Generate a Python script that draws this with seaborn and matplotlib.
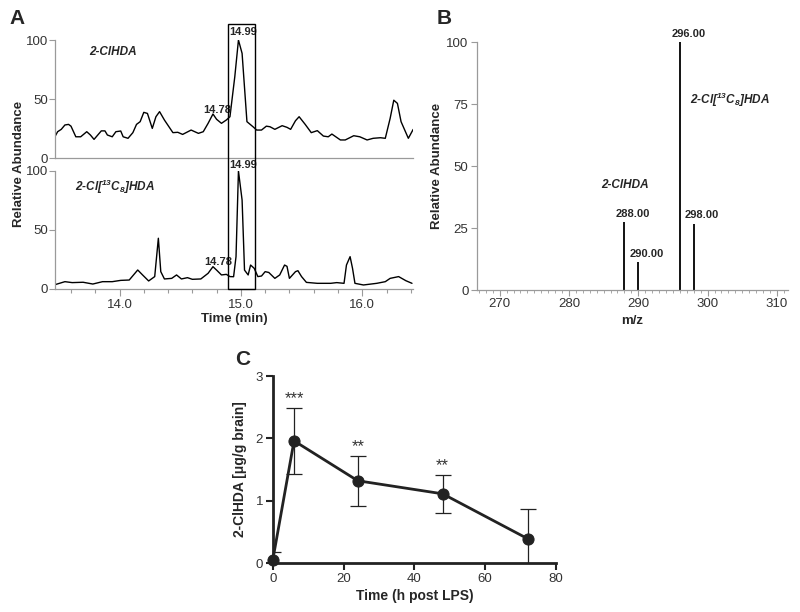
import numpy as np
import pandas as pd
import matplotlib
matplotlib.use("Agg")
import matplotlib.pyplot as plt
from matplotlib.patches import Rectangle
from matplotlib.ticker import MultipleLocator
import seaborn as sns

# chromatogram, 2-ClHDA trace (time in min, relative abundance)
top_time = [13.46, 13.49, 13.52, 13.55, 13.58, 13.60, 13.64, 13.68, 13.73, 13.76,
            13.79, 13.85, 13.88, 13.90, 13.94, 13.97, 14.01, 14.03, 14.07, 14.11,
            14.14, 14.17, 14.20, 14.23, 14.27, 14.30, 14.33, 14.37, 14.44, 14.48,
            14.52, 14.59, 14.65, 14.69, 14.73, 14.77, 14.80, 14.84, 14.88, 14.91,
            14.95, 14.98, 15.01, 15.05, 15.10, 15.13, 15.17, 15.21, 15.24, 15.28,
            15.34, 15.38, 15.41, 15.45, 15.48, 15.53, 15.58, 15.63, 15.68, 15.72,
            15.75, 15.82, 15.86, 15.93, 15.98, 16.04, 16.09, 16.15, 16.19, 16.23,
            16.26, 16.29, 16.32, 16.38, 16.42]
top_abund = [16.7, 22.3, 24.3, 28.0, 28.5, 27.0, 18.0, 18.0, 22.3, 19.5,
             15.8, 23.0, 23.0, 19.5, 18.0, 22.3, 22.9, 18.0, 16.7, 21.5,
             28.5, 30.8, 38.7, 37.8, 25.1, 35.0, 39.3, 32.2, 21.5, 21.8,
             20.0, 23.7, 20.9, 22.3, 29.4, 37.3, 32.8, 29.4, 32.2, 35.0,
             69.0, 100.0, 88.7, 30.8, 26.5, 23.7, 23.7, 27.0, 26.5, 24.3,
             27.4, 26.0, 24.3, 31.6, 35.0, 28.5, 21.5, 23.2, 18.6, 18.0,
             20.3, 15.3, 15.3, 18.9, 18.0, 15.3, 16.7, 17.2, 16.7, 33.6,
             49.0, 46.3, 30.8, 16.7, 24.3]

# chromatogram, 2-Cl[13C8]HDA trace
bot_time = [13.46, 13.55, 13.61, 13.70, 13.78, 13.86, 13.94, 14.01, 14.08, 14.15,
            14.19, 14.24, 14.29, 14.32, 14.34, 14.37, 14.43, 14.47, 14.51, 14.56,
            14.60, 14.67, 14.73, 14.77, 14.80, 14.84, 14.88, 14.91, 14.94, 14.96,
            14.98, 15.01, 15.03, 15.06, 15.08, 15.11, 15.14, 15.17, 15.20, 15.23,
            15.28, 15.32, 15.36, 15.38, 15.40, 15.45, 15.47, 15.50, 15.54, 15.63,
            15.74, 15.79, 15.85, 15.87, 15.90, 15.92, 15.94, 16.01, 16.12, 16.19,
            16.23, 16.30, 16.36, 16.41]
bot_abund = [3.4, 6.2, 5.4, 5.7, 4.2, 6.2, 6.2, 7.3, 7.6, 16.1,
             11.9, 6.8, 10.5, 43.0, 14.7, 8.5, 9.0, 11.9, 8.5, 9.6,
             8.2, 8.5, 13.3, 18.9, 16.0, 11.9, 12.4, 10.5, 10.4, 27.4,
             100.0, 75.4, 16.0, 11.9, 20.3, 17.5, 10.5, 11.0, 14.7, 14.0,
             9.0, 11.9, 20.3, 19.2, 9.0, 14.7, 15.5, 10.5, 5.6, 4.8,
             4.8, 5.4, 4.8, 20.3, 27.4, 17.5, 4.8, 3.4, 4.8, 6.2,
             9.0, 10.5, 7.0, 4.8]

# mass spectrum
mz = [288.0, 290.0, 296.0, 298.0]
mz_abund = [27.5, 11.4, 100.0, 26.8]
mz_labels = ["288.00", "290.00", "296.00", "298.00"]

# time course after LPS
hours = [0, 6, 24, 48, 72]
conc = [0.05, 1.96, 1.32, 1.11, 0.39]
conc_sem = [0.12, 0.53, 0.40, 0.31, 0.47]
stars = ["", "***", "**", "**", ""]

sns.set_style("ticks")
plt.rcParams["font.family"] = ["Liberation Sans", "DejaVu Sans"]
plt.rcParams["mathtext.fontset"] = "custom"
plt.rcParams["mathtext.it"] = "Liberation Sans:italic:bold"
plt.rcParams["mathtext.rm"] = "Liberation Sans:italic:bold"
plt.rcParams["mathtext.bf"] = "Liberation Sans:italic:bold"

grey = "#9a9a9a"
tickc = "#333333"
fig = plt.figure(figsize=(8, 6.12), dpi=100)

ax_top = fig.add_axes([0.069, 0.7418, 0.4475, 0.1928])
ax_bot = fig.add_axes([0.069, 0.5278, 0.4475, 0.1928])

chrom_top = pd.DataFrame({"time": top_time, "abund": top_abund})
chrom_bot = pd.DataFrame({"time": bot_time, "abund": bot_abund})
sns.lineplot(data=chrom_top, x="time", y="abund", ax=ax_top, color="black", lw=1.0)
sns.lineplot(data=chrom_bot, x="time", y="abund", ax=ax_bot, color="black", lw=1.0)

for ax in (ax_top, ax_bot):
    ax.set_xlim(13.47, 16.42)
    ax.set_ylim(0, 100)
    ax.set_yticks([0, 50, 100])
    ax.set_xlabel("")
    ax.set_ylabel("")
    sns.despine(ax=ax)
    for s in ("left", "bottom"):
        ax.spines[s].set_color(grey)
        ax.spines[s].set_linewidth(0.9)
    ax.tick_params(axis="y", colors=grey, labelcolor=tickc, labelsize=9.5, length=4, width=0.8, pad=1)
ax_top.set_xticks([])
ax_bot.set_xticks([14.0, 15.0, 16.0])
ax_bot.set_xticklabels(["14.0", "15.0", "16.0"])
ax_bot.xaxis.set_minor_locator(MultipleLocator(0.2))
ax_bot.tick_params(axis="x", which="major", colors=grey, labelcolor=tickc, labelsize=9.5, length=5, width=0.8, pad=2)
ax_bot.tick_params(axis="x", which="minor", colors=grey, length=3, width=0.8)
ax_bot.set_xlabel("Time (min)", fontsize=9.5, fontweight="bold", labelpad=2)

ax_top.text(13.95, 90, "2-ClHDA", fontsize=8.5, fontweight="bold", style="italic", ha="center", va="center")
ax_bot.text(13.965, 86.7, r"2-Cl[$^{13}$C$_8$]HDA", fontsize=8.5, fontweight="bold", style="italic",
            ha="center", va="center")
ax_top.text(15.02, 106.5, "14.99", fontsize=8, fontweight="bold", ha="center", va="center", clip_on=False)
ax_top.text(14.805, 40.7, "14.78", fontsize=8, fontweight="bold", ha="center", va="center")
ax_bot.text(15.02, 105, "14.99", fontsize=8, fontweight="bold", ha="center", va="center", clip_on=False)
ax_bot.text(14.81, 23.1, "14.78", fontsize=8, fontweight="bold", ha="center", va="center")
ax_bot.add_patch(Rectangle((14.89, 0), 0.23, 225, fill=False, ec="black", lw=1.0, clip_on=False, zorder=5))

fig.text(0.024, 1 - 164 / 612, "Relative Abundance", rotation=90, fontsize=9.5, fontweight="bold",
         ha="center", va="center")
fig.text(0.012, 0.985, "A", fontsize=15, fontweight="bold", ha="left", va="top")

# panel B
ax_ms = fig.add_axes([0.596, 0.526, 0.389, 0.405])
ax_ms.vlines(mz, 0, mz_abund, color="black", lw=1.3)
for m, a, lab in zip(mz, mz_abund, mz_labels):
    ax_ms.text(m + 1.2, a + 1.3, lab, fontsize=8, fontweight="bold", ha="center", va="bottom", clip_on=False)
ax_ms.set_xlim(266.7, 311.6)
ax_ms.set_ylim(0, 100)
ax_ms.set_xticks([270, 280, 290, 300, 310])
ax_ms.set_yticks([0, 25, 50, 75, 100])
ax_ms.xaxis.set_minor_locator(MultipleLocator(1))
sns.despine(ax=ax_ms)
for s in ("left", "bottom"):
    ax_ms.spines[s].set_color(grey)
    ax_ms.spines[s].set_linewidth(0.9)
ax_ms.tick_params(which="major", colors=grey, labelcolor=tickc, labelsize=9.5, length=4, width=0.8, pad=2)
ax_ms.tick_params(which="minor", colors=grey, length=2, width=0.6)
ax_ms.set_xlabel("m/z", fontsize=9.5, fontweight="bold", labelpad=3)
ax_ms.set_ylabel("Relative Abundance", fontsize=9.5, fontweight="bold", labelpad=2)
ax_ms.text(288.05, 42.3, "2-ClHDA", fontsize=8.5, fontweight="bold", style="italic", ha="center", va="center")
ax_ms.text(303.3, 76.6, r"2-Cl[$^{13}$C$_8$]HDA", fontsize=8.5, fontweight="bold", style="italic",
           ha="center", va="center")
fig.text(0.546, 0.985, "B", fontsize=15, fontweight="bold", ha="left", va="top")

# panel C
ax_c = fig.add_axes([0.341, 0.080, 0.354, 0.3056])
course = pd.DataFrame({"h": hours, "c": conc})
ax_c.errorbar(hours, conc, yerr=conc_sem, fmt="none", ecolor="#222222", elinewidth=0.9, capsize=6,
              capthick=0.9, zorder=2)
sns.lineplot(data=course, x="h", y="c", ax=ax_c, color="#222222", lw=2.0, marker="o", markersize=8,
             markeredgecolor="#222222", zorder=3, clip_on=False)
for h, c, e, s in zip(hours, conc, conc_sem, stars):
    if s:
        ax_c.text(h, c + e + 0.03, s, fontsize=12, color="#333333", ha="center", va="bottom")
ax_c.set_xlim(0, 80)
ax_c.set_ylim(0, 3)
ax_c.set_xticks([0, 20, 40, 60, 80])
ax_c.set_yticks([0, 1, 2, 3])
sns.despine(ax=ax_c)
for s in ("left", "bottom"):
    ax_c.spines[s].set_linewidth(2.0)
    ax_c.spines[s].set_color("#222222")
ax_c.tick_params(colors="#222222", labelcolor=tickc, labelsize=9.5, length=5, width=1.5, pad=2)
ax_c.set_xlabel("Time (h post LPS)", fontsize=10, fontweight="bold", labelpad=3)
ax_c.set_ylabel("2-ClHDA [μg/g brain]", fontsize=10, fontweight="bold", labelpad=6)
fig.text(0.294, 1 - 350 / 612, "C", fontsize=15, fontweight="bold", ha="left", va="top")

fig.savefig("out.png", dpi=100)
